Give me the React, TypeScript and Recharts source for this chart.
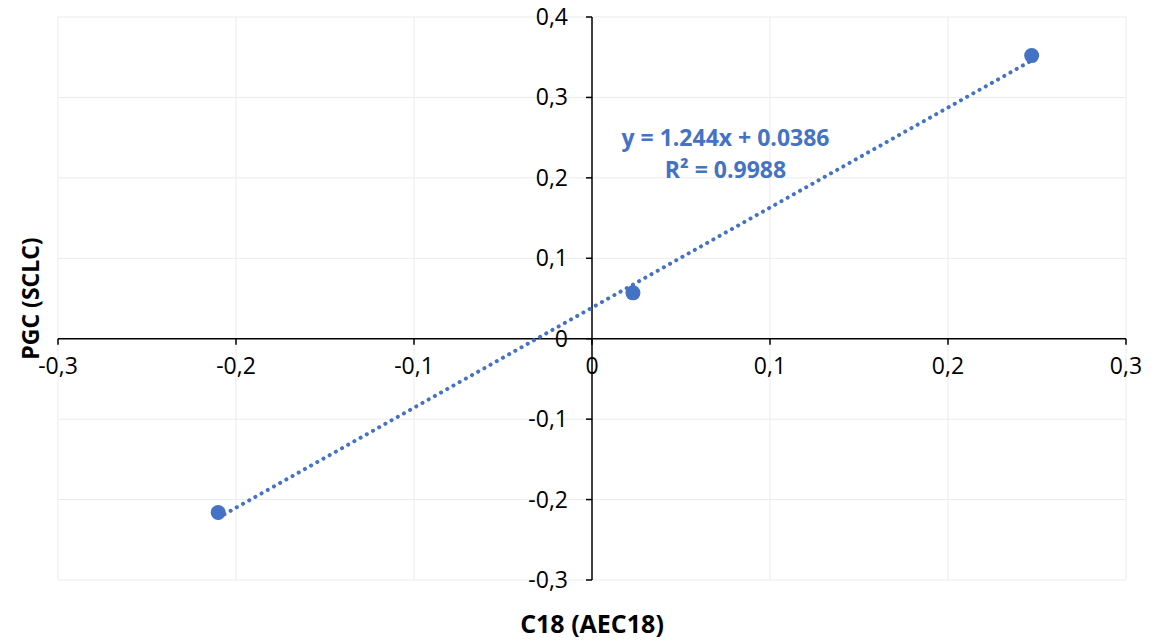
import {
  ScatterChart,
  Scatter,
  XAxis,
  YAxis,
  CartesianGrid,
  ReferenceLine,
  ReferenceDot,
  Label,
} from "recharts";

// C18 (AEC18) vs PGC (SCLC)
const c18 = [-0.21, 0.023, 0.247];
const pgc = [-0.216, 0.057, 0.352];
const xTicks = [-0.3, -0.2, -0.1, 0, 0.1, 0.2, 0.3];
const yTicks = [-0.3, -0.2, -0.1, 0, 0.1, 0.2, 0.3, 0.4];
const slope = 1.244;
const intercept = 0.0386;
const rSquared = 0.9988;

const W = 1171;
const H = 641;
const MARGIN = { top: 17, right: 45, left: 0, bottom: 0 };
const Y_AXIS_W = 58;
const X_AXIS_H = 61;
const X_MIN = -0.3;
const X_MAX = 0.3;
const Y_MIN = -0.3;
const Y_MAX = 0.4;
const PLOT_W = W - MARGIN.left - MARGIN.right - Y_AXIS_W;
const PLOT_H = H - MARGIN.top - MARGIN.bottom - X_AXIS_H;
// axes cross at the origin
const ZERO_X = MARGIN.left + Y_AXIS_W + (PLOT_W * (0 - X_MIN)) / (X_MAX - X_MIN);
const ZERO_Y = MARGIN.top + (PLOT_H * (Y_MAX - 0)) / (Y_MAX - Y_MIN);

const BLUE = "#4472C4";
const FONT = "'Open Sans', sans-serif";

const points = c18.map((x, i) => ({ x, y: pgc[i] }));
const xLo = Math.min(...c18);
const xHi = Math.max(...c18);
const trend = [
  { x: xLo, y: slope * xLo + intercept },
  { x: xHi, y: slope * xHi + intercept },
];

const fmt = (v: number) => (v === 0 ? "0" : v.toFixed(1).replace(".", ","));

const XTick = (props: any) => {
  const { x, payload } = props;
  return (
    <g>
      <line x1={x} x2={x} y1={ZERO_Y} y2={ZERO_Y + 6} stroke="#000" strokeWidth={1.5} />
      <text
        x={x}
        y={ZERO_Y + 35}
        textAnchor="middle"
        fontFamily={FONT}
        fontSize={23}
        fill="#000"
      >
        {fmt(payload.value)}
      </text>
    </g>
  );
};

const YTick = (props: any) => {
  const { y, payload } = props;
  return (
    <g>
      <line x1={ZERO_X - 6} x2={ZERO_X} y1={y} y2={y} stroke="#000" strokeWidth={1.5} />
      <text
        x={ZERO_X - 24}
        y={y}
        dy="0.35em"
        textAnchor="end"
        fontFamily={FONT}
        fontSize={23}
        fill="#000"
      >
        {fmt(payload.value)}
      </text>
    </g>
  );
};

const EquationLabel = (props: any) => {
  const { viewBox } = props;
  const cx = viewBox.x + (viewBox.width || 0) / 2;
  const cy = viewBox.y + (viewBox.height || 0) / 2;
  return (
    <text fontFamily={FONT} fontSize={23} fontWeight="bold" fill={BLUE} textAnchor="middle">
      <tspan x={cx} y={cy - 8}>{`y = ${slope}x + ${intercept}`}</tspan>
      <tspan x={cx} y={cy + 24}>{`R² = ${rSquared}`}</tspan>
    </text>
  );
};

export default function App() {
  return (
    <div style={{ position: "absolute", left: 0, top: 0, background: "#fff" }}>
      <ScatterChart width={W} height={H} margin={MARGIN}>
        <CartesianGrid stroke="#ebebeb" strokeWidth={1} />
        <XAxis
          type="number"
          dataKey="x"
          domain={[X_MIN, X_MAX]}
          ticks={xTicks}
          axisLine={false}
          tickLine={false}
          tick={<XTick />}
          height={X_AXIS_H}
          interval={0}
        >
          <Label
            content={(p: any) => (
              <text
                x={p.viewBox.x + p.viewBox.width / 2}
                y={p.viewBox.y + 53}
                textAnchor="middle"
                fontFamily={FONT}
                fontSize={25}
                fontWeight="bold"
                fill="#000"
              >
                C18 (AEC18)
              </text>
            )}
          />
        </XAxis>
        <YAxis
          type="number"
          dataKey="y"
          domain={[Y_MIN, Y_MAX]}
          ticks={yTicks}
          axisLine={false}
          tickLine={false}
          tick={<YTick />}
          width={Y_AXIS_W}
          interval={0}
        >
          <Label
            content={(p: any) => {
              const cx = 31;
              const cy = p.viewBox.y + p.viewBox.height / 2;
              return (
                <text
                  x={cx}
                  y={cy}
                  dy="0.35em"
                  transform={`rotate(-90 ${cx} ${cy})`}
                  textAnchor="middle"
                  fontFamily={FONT}
                  fontSize={23}
                  fontWeight="bold"
                  fill="#000"
                >
                  PGC (SCLC)
                </text>
              );
            }}
          />
        </YAxis>
        <ReferenceLine y={0} stroke="#000" strokeWidth={1.5} />
        <ReferenceLine x={0} stroke="#000" strokeWidth={1.5} />
        <ReferenceLine
          segment={trend}
          stroke={BLUE}
          strokeWidth={4}
          strokeDasharray="0.1 7"
          strokeLinecap="round"
        />
        <Scatter
          data={points}
          fill={BLUE}
          isAnimationActive={false}
          shape={(p: any) => <circle cx={p.cx} cy={p.cy} r={7.5} fill={BLUE} />}
        />
        <ReferenceDot x={0.075} y={0.23} r={0} fill="none" stroke="none" label={<EquationLabel />} />
      </ScatterChart>
    </div>
  );
}
